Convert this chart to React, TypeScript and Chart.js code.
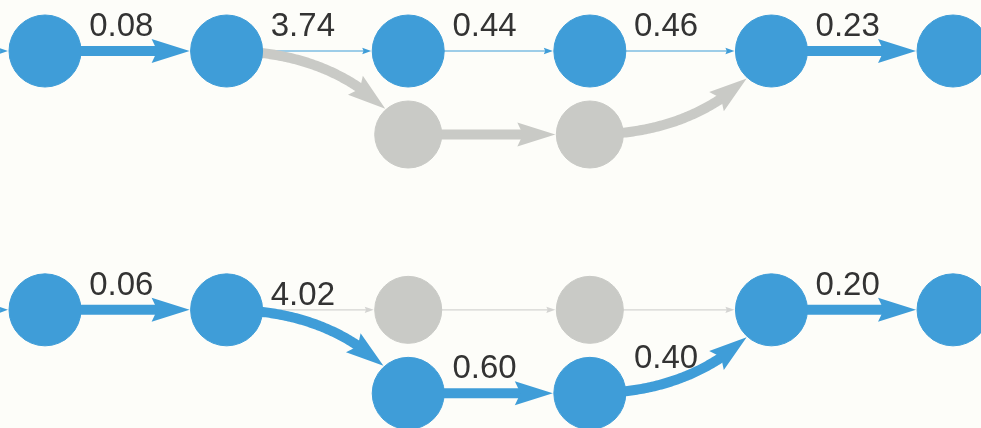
import React, { useEffect, useRef } from "react";
import { Chart, registerables } from "chart.js";

Chart.register(...registerables);

// ---- data ----
// node ids, column (step) index, row level, and whether the node is on the highlighted path
const nodeIds = ["u0", "u1", "u2", "u3", "u4", "u5", "u6", "uA", "uB", "l0", "l1", "l2", "l3", "l4", "l5", "l6", "lA", "lB"];
const nodeCols = [-1, 0, 1, 2, 3, 4, 5, 2, 3, -1, 0, 1, 2, 3, 4, 5, 2, 3];
const nodeRows = [0, 0, 0, 0, 0, 0, 0, 1, 1, 3.1, 3.1, 3.1, 3.1, 3.1, 3.1, 3.1, 4.1, 4.1];
const nodeOn = [true, true, true, true, true, true, true, false, false, true, true, true, false, false, true, true, true, true];

// edges: from, to, label, heavy flow, on highlighted path
const edgeFrom = ["u0", "u1", "u2", "u3", "u4", "u5", "u2", "uA", "uB", "l0", "l1", "l2", "l3", "l4", "l2", "lA", "lB", "l5"];
const edgeTo = ["u1", "u2", "u3", "u4", "u5", "u6", "uA", "uB", "u5", "l1", "l2", "l3", "l4", "l5", "lA", "lB", "l5", "l6"];
const edgeLabels = ["", "0.08", "3.74", "0.44", "0.46", "0.23", "", "", "", "", "0.06", "", "", "", "4.02", "0.60", "0.40", "0.20"];
const edgeHeavy = [false, true, false, false, false, true, true, true, true, false, true, false, false, false, true, true, true, true];
const edgeOn = [true, true, true, true, true, true, false, false, false, true, true, false, false, false, true, true, true, true];

// ---- styling / layout ----
const BG = "#fdfdf9";
const BLUE = "#3f9dd8";
const GRAY_NODE = "#c9cac6";
const GRAY_EDGE_HEAVY = "#c9cac6";
const GRAY_EDGE_LIGHT = "#d4d4d2";
const TEXT = "#333333";
const R_ON = 36;
const R_OFF = 33.5;
const X_MIN = -0.2478;
const X_MAX = 5.154;
const Y_MIN = -0.6108;
const Y_MAX = 4.515;
const CURVE_K = 0.65;

type P = { x: number; y: number };

function idx(id: string) {
  return nodeIds.indexOf(id);
}

function geom(chart: any, i: number) {
  const xs = chart.scales.x;
  const ys = chart.scales.y;
  const a = idx(edgeFrom[i]);
  const b = idx(edgeTo[i]);
  const sx = xs.getPixelForValue(nodeCols[a]);
  const sy = ys.getPixelForValue(nodeRows[a]);
  const tx = xs.getPixelForValue(nodeCols[b]);
  const ty = ys.getPixelForValue(nodeRows[b]);
  const cx = sx + CURVE_K * (tx - sx);
  const cy = sy;
  const pt = (t: number): P => {
    const u = 1 - t;
    return {
      x: u * u * sx + 2 * t * u * cx + t * t * tx,
      y: u * u * sy + 2 * t * u * cy + t * t * ty,
    };
  };
  const rT = (nodeOn[b] ? R_ON : R_OFF) + 1;
  return { sx, sy, tx, ty, pt, rT };
}

function solve(f: (t: number) => boolean, lo: number, hi: number) {
  for (let k = 0; k < 50; k++) {
    const m = (lo + hi) / 2;
    if (f(m)) lo = m;
    else hi = m;
  }
  return (lo + hi) / 2;
}

const dist = (p: P, q: P) => Math.hypot(p.x - q.x, p.y - q.y);

const networkPlugin = {
  id: "network",
  beforeDraw(chart: any) {
    const ctx = chart.ctx;
    ctx.save();
    ctx.fillStyle = BG;
    ctx.fillRect(0, 0, chart.width, chart.height);
    ctx.restore();
  },
  beforeDatasetsDraw(chart: any) {
    const ctx = chart.ctx;
    ctx.save();
    for (let i = 0; i < edgeFrom.length; i++) {
      const g = geom(chart, i);
      const heavy = edgeHeavy[i];
      const color = edgeOn[i] ? BLUE : heavy ? GRAY_EDGE_HEAVY : GRAY_EDGE_LIGHT;
      const L = heavy ? 38 : 9;
      const hw = heavy ? 12 : 3.2;
      const target = { x: g.tx, y: g.ty };
      const tTip = solve((t) => dist(g.pt(t), target) > g.rT, 0, 1);
      const tip = g.pt(tTip);
      const tBase = solve((t) => dist(g.pt(t), tip) > L, 0, tTip);
      const base = g.pt(tBase);
      const tShaft = solve((t) => dist(g.pt(t), tip) > L * 0.8, 0, tTip);
      // shaft
      ctx.beginPath();
      const steps = 80;
      for (let s = 0; s <= steps; s++) {
        const p = g.pt((tShaft * s) / steps);
        if (s === 0) ctx.moveTo(p.x, p.y);
        else ctx.lineTo(p.x, p.y);
      }
      ctx.strokeStyle = color;
      ctx.lineWidth = heavy ? 10 : 1.2;
      ctx.lineCap = "butt";
      ctx.lineJoin = "round";
      ctx.stroke();
      // arrow head
      let dx = tip.x - base.x;
      let dy = tip.y - base.y;
      const len = Math.hypot(dx, dy) || 1;
      dx /= len;
      dy /= len;
      const nx = -dy;
      const ny = dx;
      const bx = tip.x - dx * L;
      const by = tip.y - dy * L;
      ctx.beginPath();
      ctx.moveTo(tip.x, tip.y);
      ctx.lineTo(bx + nx * hw, by + ny * hw);
      ctx.lineTo(tip.x - dx * L * 0.85, tip.y - dy * L * 0.85);
      ctx.lineTo(bx - nx * hw, by - ny * hw);
      ctx.closePath();
      ctx.fillStyle = color;
      ctx.fill();
    }
    ctx.restore();
  },
  afterDatasetsDraw(chart: any) {
    const ctx = chart.ctx;
    ctx.save();
    ctx.font = "33px 'Liberation Sans', Arial, sans-serif";
    ctx.fillStyle = TEXT;
    ctx.textAlign = "center";
    ctx.textBaseline = "alphabetic";
    for (let i = 0; i < edgeFrom.length; i++) {
      if (!edgeLabels[i]) continue;
      const g = geom(chart, i);
      const lx = g.sx + 0.42 * (g.tx - g.sx);
      const t = solve((tt) => g.pt(tt).x < lx, 0, 1);
      const ly = g.pt(t).y - 15;
      ctx.fillText(edgeLabels[i], lx, ly);
    }
    ctx.restore();
  },
};

export default function App() {
  const ref = useRef<HTMLCanvasElement | null>(null);
  useEffect(() => {
    if (!ref.current) return;
    const onPts: any[] = [];
    const offPts: any[] = [];
    nodeIds.forEach((_, i) => {
      const p = { x: nodeCols[i], y: nodeRows[i] };
      if (nodeOn[i]) onPts.push(p);
      else offPts.push(p);
    });
    const chart = new Chart(ref.current, {
      type: "scatter",
      data: {
        datasets: [
          {
            data: offPts,
            pointRadius: R_OFF,
            pointBackgroundColor: GRAY_NODE,
            pointBorderColor: GRAY_NODE,
            pointBorderWidth: 1,
            clip: false,
          } as any,
          {
            data: onPts,
            pointRadius: R_ON,
            pointBackgroundColor: BLUE,
            pointBorderColor: BLUE,
            pointBorderWidth: 1,
            clip: false,
          } as any,
        ],
      },
      options: {
        animation: false,
        responsive: false,
        maintainAspectRatio: false,
        events: [],
        layout: { padding: 0, autoPadding: false },
        scales: {
          x: { type: "linear", min: X_MIN, max: X_MAX, display: false },
          y: { type: "linear", min: Y_MIN, max: Y_MAX, reverse: true, display: false },
        },
        plugins: {
          legend: { display: false },
          tooltip: { enabled: false },
        },
      },
      plugins: [networkPlugin],
    });
    return () => chart.destroy();
  }, []);
  return (
    <div style={{ position: "fixed", left: 0, top: 0, width: 981, height: 428, background: BG }}>
      <canvas ref={ref} width={981} height={428} style={{ display: "block" }} />
    </div>
  );
}
